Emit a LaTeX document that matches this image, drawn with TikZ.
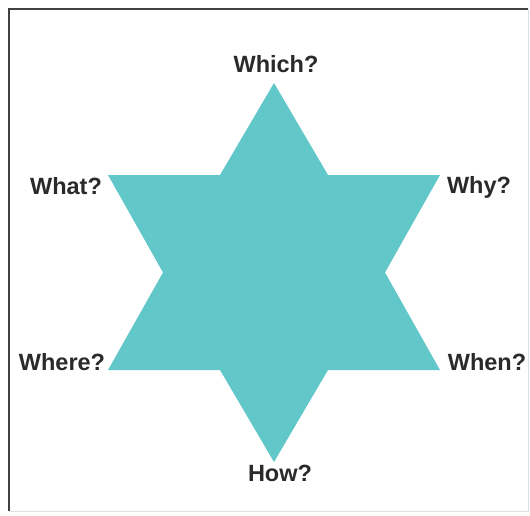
\documentclass[tikz,border=0pt]{standalone}
\usepackage{fontspec}
\setmainfont{Liberation Sans}
\definecolor{starteal}{HTML}{62C7C9}
\definecolor{labelgray}{HTML}{2A2A2A}
\begin{document}
\begin{tikzpicture}[x=1pt,y=-1pt,
  lbl/.style={font=\fontsize{23.5}{26}\selectfont\bfseries, text=labelgray, inner sep=0pt}]
\useasboundingbox (0,0) rectangle (530,515);
\fill[white] (0,0) rectangle (530,515);
% frame
\draw[line width=2.5pt, black!75] (9,511) -- (9,9) -- (528,9);
\draw[line width=1pt, black!12] (528,9) -- (528,511) -- (9,511);
% star
\fill[starteal] (274,83) -- (328,175) -- (440,175) -- (385,272.5) -- (440,370)
  -- (328,370) -- (274,462) -- (220,370) -- (108,370) -- (163,272.5)
  -- (108,175) -- (220,175) -- cycle;
% labels
\node[lbl] (which) at (276,64) {Which?};
\node[lbl] (what) at (66,186) {What?};
\node[lbl] (why) at (479,187) {Why?};
\node[lbl] (where) at (62,362) {Where?};
\node[lbl] (when) at (487,362) {When?};
\node[lbl] (how) at (280,473) {How?};
\end{tikzpicture}
\end{document}
